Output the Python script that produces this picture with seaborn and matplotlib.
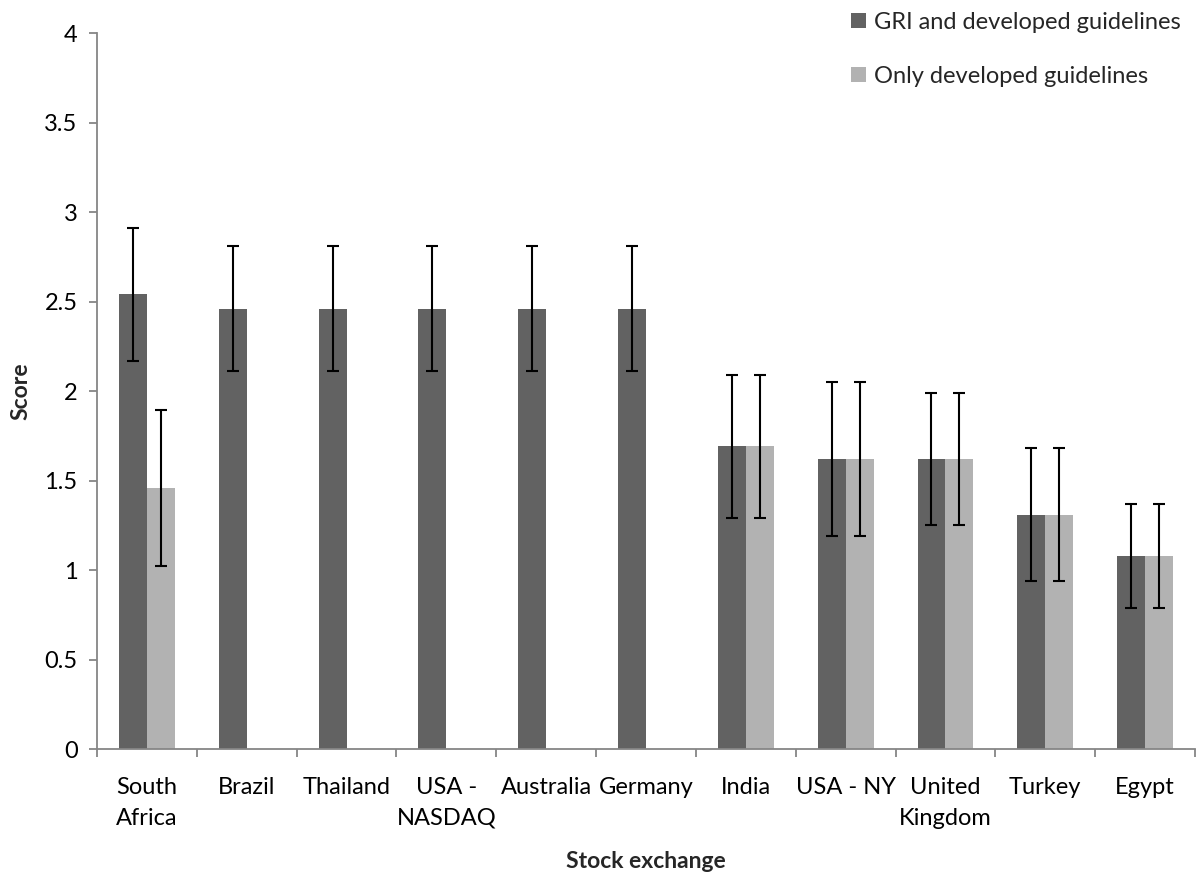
import numpy as np
import pandas as pd
import matplotlib
matplotlib.use("Agg")
import matplotlib.pyplot as plt
import seaborn as sns

# Mean scores and standard deviations per stock exchange
exchanges = ["South\nAfrica", "Brazil", "Thailand", "USA -\nNASDAQ", "Australia",
             "Germany", "India", "USA - NY", "United\nKingdom", "Turkey", "Egypt"]
gri_scores = [2.54, 2.46, 2.46, 2.46, 2.46, 2.46, 1.69, 1.62, 1.62, 1.31, 1.08]
gri_errors = [0.37, 0.35, 0.35, 0.35, 0.35, 0.35, 0.40, 0.43, 0.37, 0.37, 0.29]
only_scores = [1.46, None, None, None, None, None, 1.69, 1.62, 1.62, 1.31, 1.08]
only_errors = [0.435, None, None, None, None, None, 0.40, 0.43, 0.37, 0.37, 0.29]
series_names = ["GRI and developed guidelines", "Only developed guidelines"]
series_colors = ["#626262", "#b2b2b2"]
y_ticks = [0, 0.5, 1, 1.5, 2, 2.5, 3, 3.5, 4]

rows = []
for name, vals, errs in [(series_names[0], gri_scores, gri_errors),
                         (series_names[1], only_scores, only_errors)]:
    for ex, v, e in zip(exchanges, vals, errs):
        if v is not None:
            rows.append({"Exchange": ex, "Guidelines": name, "Score": v, "SD": e})
df = pd.DataFrame(rows)

sns.set_theme(style="white")
plt.rcParams["font.family"] = ["Lato", "DejaVu Sans"]

fig = plt.figure(figsize=(11.97, 8.72), dpi=100)
ax = fig.add_axes([97 / 1197, 123 / 872, 1098 / 1197, 716 / 872])

sns.barplot(data=df, x="Exchange", y="Score", hue="Guidelines",
            order=exchanges, hue_order=series_names, palette=series_colors,
            width=0.56, errorbar=None, saturation=1, ax=ax, edgecolor="none")

# Error bars centred on each drawn bar
for cont, name in zip(ax.containers, series_names):
    present = set(df[df["Guidelines"] == name]["Exchange"])
    sub = df[df["Guidelines"] == name].set_index("Exchange").reindex(
        [e for e in exchanges if e in present])
    xs = [p.get_x() + p.get_width() / 2 for p in cont]
    ax.errorbar(xs, sub["Score"].values, yerr=sub["SD"].values, fmt="none",
                ecolor="black", elinewidth=1.5, capsize=4.5, capthick=1.5, zorder=3)

ax.set_ylim(0, 4)
ax.set_xlim(-0.5, len(exchanges) - 0.5)
ax.set_yticks(y_ticks)
ax.set_yticklabels([f"{t:g}" for t in y_ticks])
ax.set_xticks(range(len(exchanges)))
ax.set_xticklabels(exchanges)
ax.set_xticks(np.arange(-0.5, len(exchanges), 1.0), minor=True)

for side in ["top", "right"]:
    ax.spines[side].set_visible(False)
for side in ["left", "bottom"]:
    ax.spines[side].set_color("#868686")
    ax.spines[side].set_linewidth(1.3)

ax.tick_params(axis="y", which="major", left=True, length=6, width=1.3,
               color="#868686", labelsize=17, labelcolor="black", pad=8)
ax.tick_params(axis="x", which="major", bottom=False, length=0,
               labelsize=17, labelcolor="black", pad=20)
ax.tick_params(axis="x", which="minor", bottom=True, length=6, width=1.3,
               color="#868686")
for lbl in ax.get_xticklabels():
    lbl.set_linespacing(1.6)

ax.set_xlabel("Stock exchange", fontsize=16.5, fontweight="bold")
ax.xaxis.set_label_coords(0.5, -0.142)
ax.set_ylabel("Score", fontsize=16.5, fontweight="bold")
ax.yaxis.set_label_coords(-0.06, 0.5)

handles, labels = ax.get_legend_handles_labels()
ax.legend(handles, labels, loc="upper left", bbox_to_anchor=(842 / 1197, 0.997),
          bbox_transform=fig.transFigure, frameon=False, fontsize=17,
          handlelength=0.62, handleheight=0.62, handletextpad=0.35,
          labelspacing=1.4, borderaxespad=0)

fig.savefig("out.png", dpi=100, facecolor="white")
